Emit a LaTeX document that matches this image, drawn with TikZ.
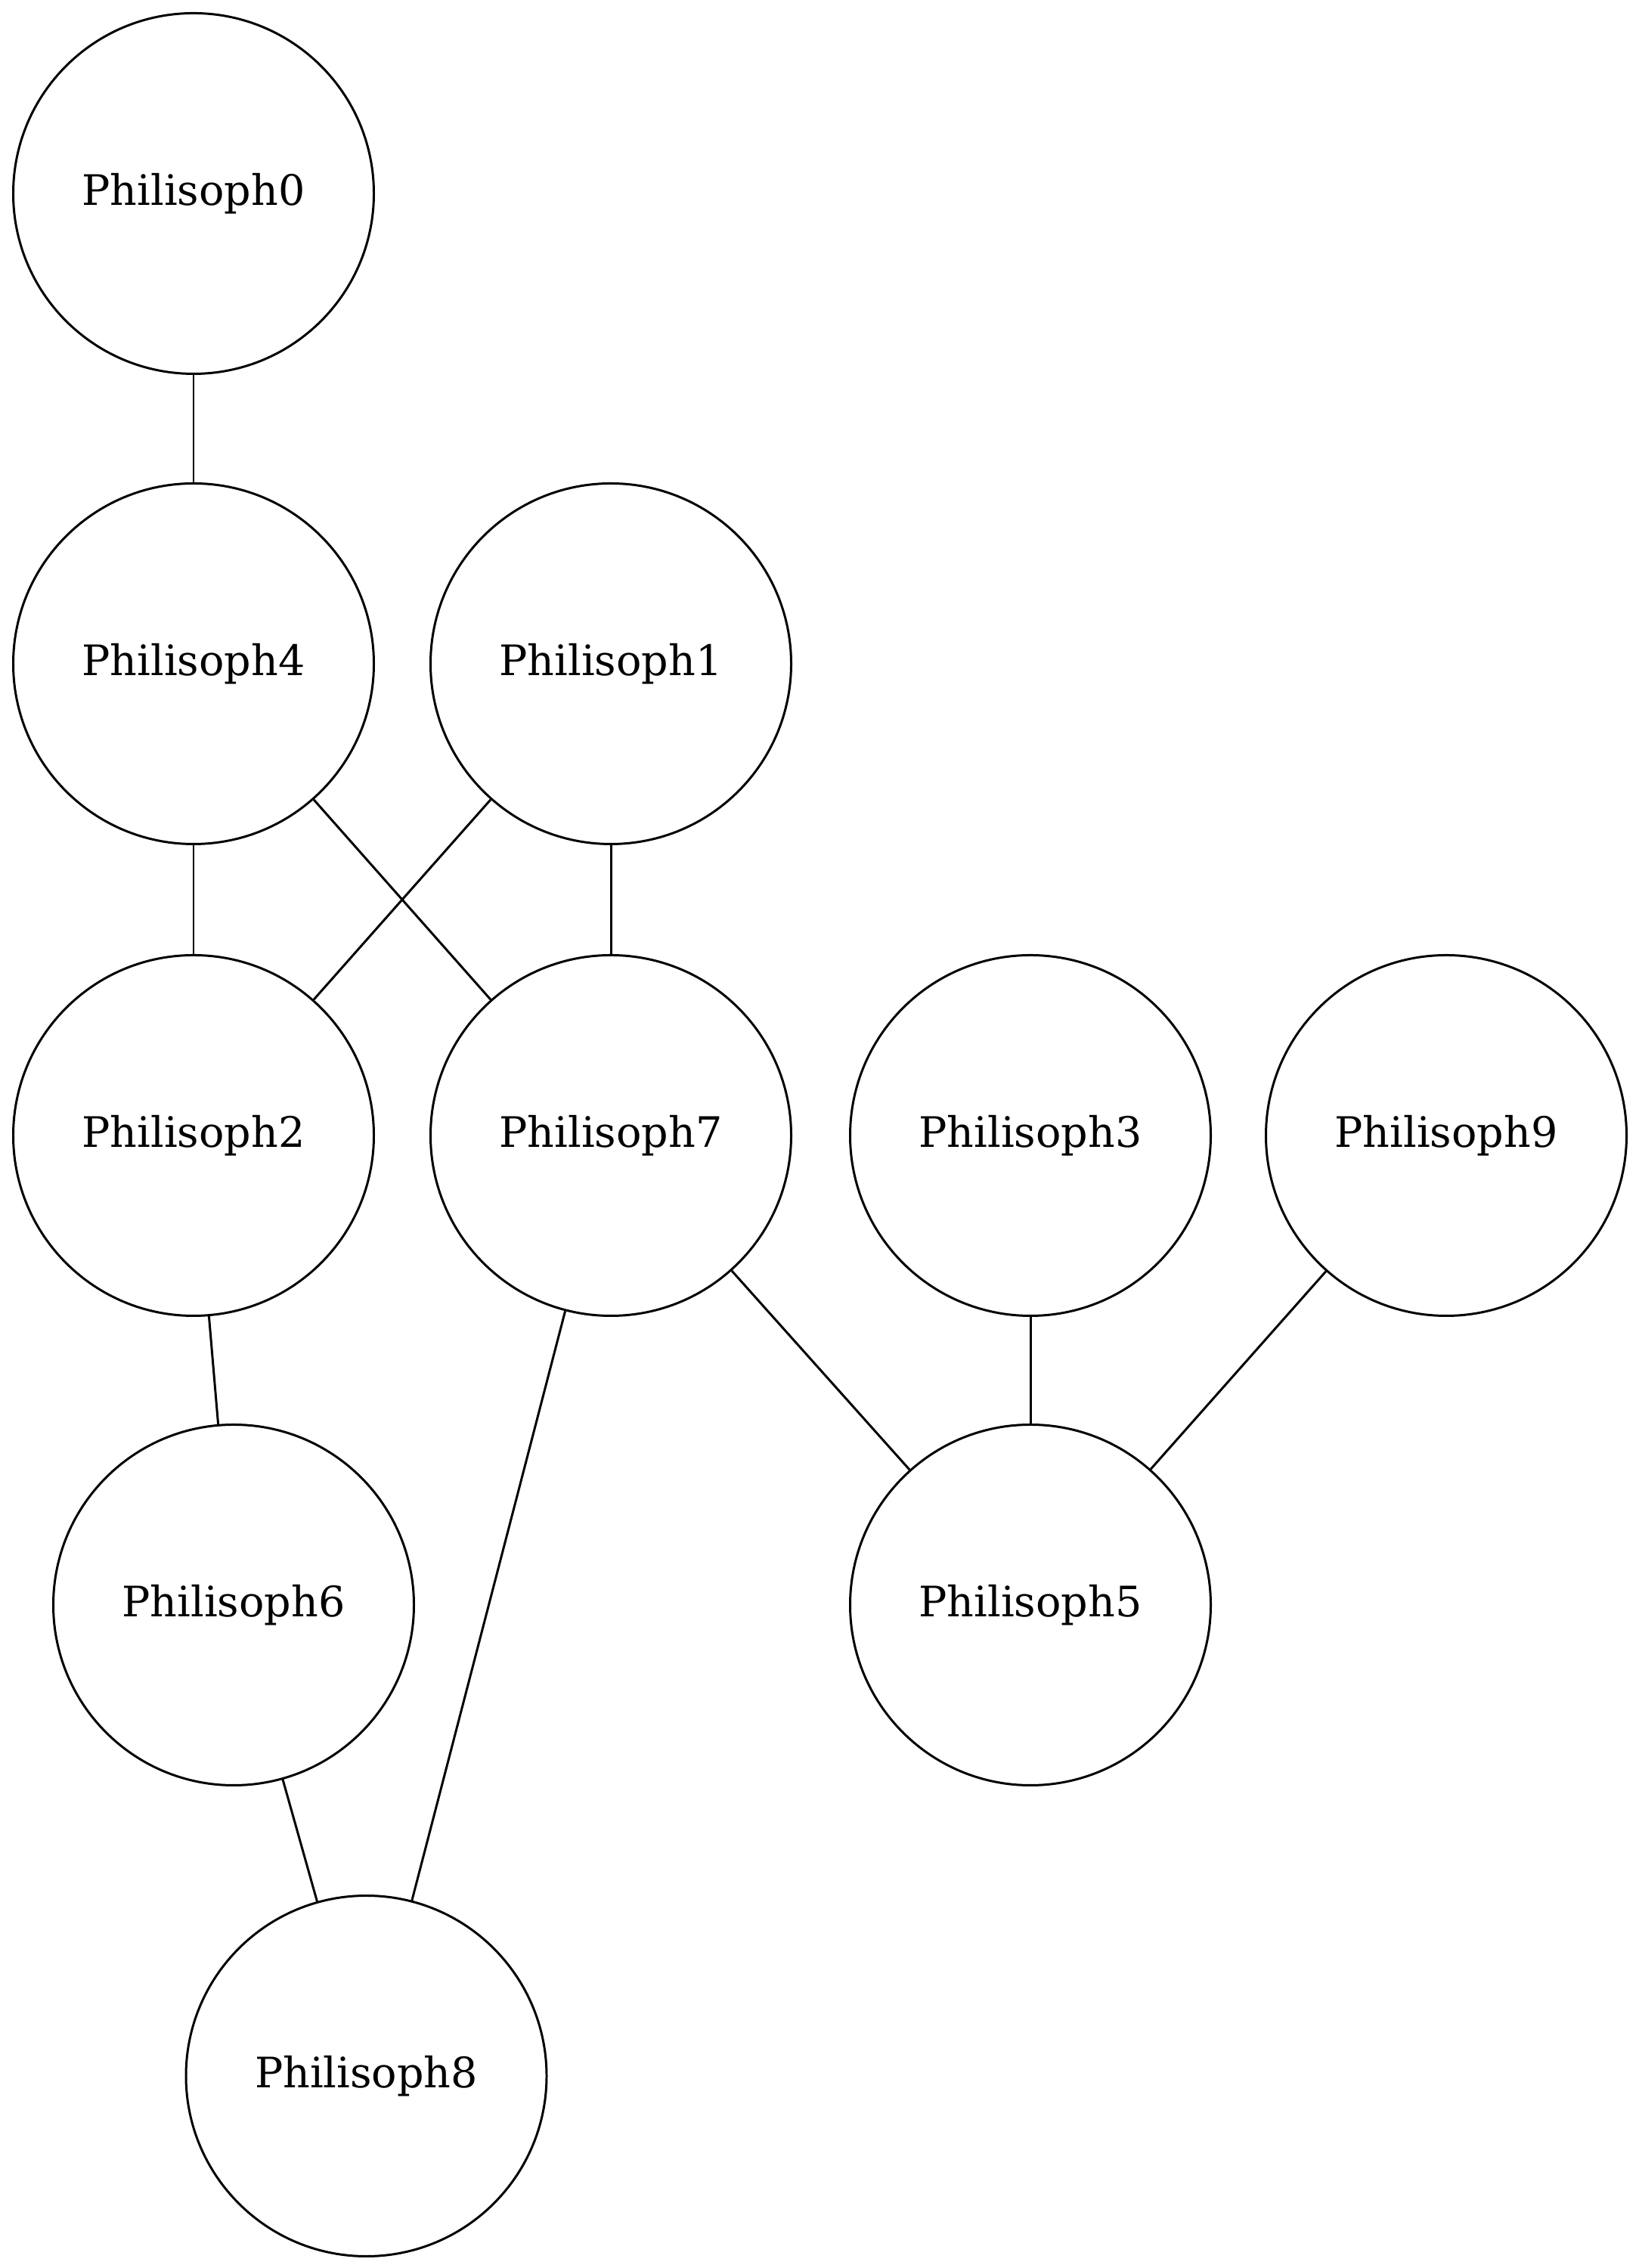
\documentclass[tikz,border=0pt]{standalone}
\usepackage{fontspec}
\setmainfont{DejaVu Serif}
\usepackage{tikz}

\begin{document}
\begin{tikzpicture}[phil/.style={circle, draw, line width=0.85pt, minimum size=4.77cm, inner sep=0pt, font=\fontsize{15.8}{19}\selectfont},
  link/.style={line width=0.85pt}]

\useasboundingbox (0,0) rectangle (21.67,30);

\node[phil] (p0) at (2.56,27.44) {Philisoph0};

\node[phil] (p4) at (2.56,21.22) {Philisoph4};
\node[phil] (p1) at (8.08,21.22) {Philisoph1};

\node[phil] (p2) at (2.56,14.98) {Philisoph2};
\node[phil] (p7) at (8.08,14.98) {Philisoph7};
\node[phil] (p3) at (13.63,14.98) {Philisoph3};
\node[phil] (p9) at (19.13,14.98) {Philisoph9};

\node[phil] (p6) at (3.09,8.77) {Philisoph6};
\node[phil] (p5) at (13.63,8.77) {Philisoph5};

\node[phil] (p8) at (4.845,2.54) {Philisoph8};

\draw[link] (p0) -- (p4);
\draw[link] (p4) -- (p2);
\draw[link] (p4) -- (p7);
\draw[link] (p1) -- (p2);
\draw[link] (p1) -- (p7);
\draw[link] (p2) -- (p6);
\draw[link] (p7) -- (p8);
\draw[link] (p7) -- (p5);
\draw[link] (p3) -- (p5);
\draw[link] (p9) -- (p5);
\draw[link] (p6) -- (p8);

\end{tikzpicture}
\end{document}
